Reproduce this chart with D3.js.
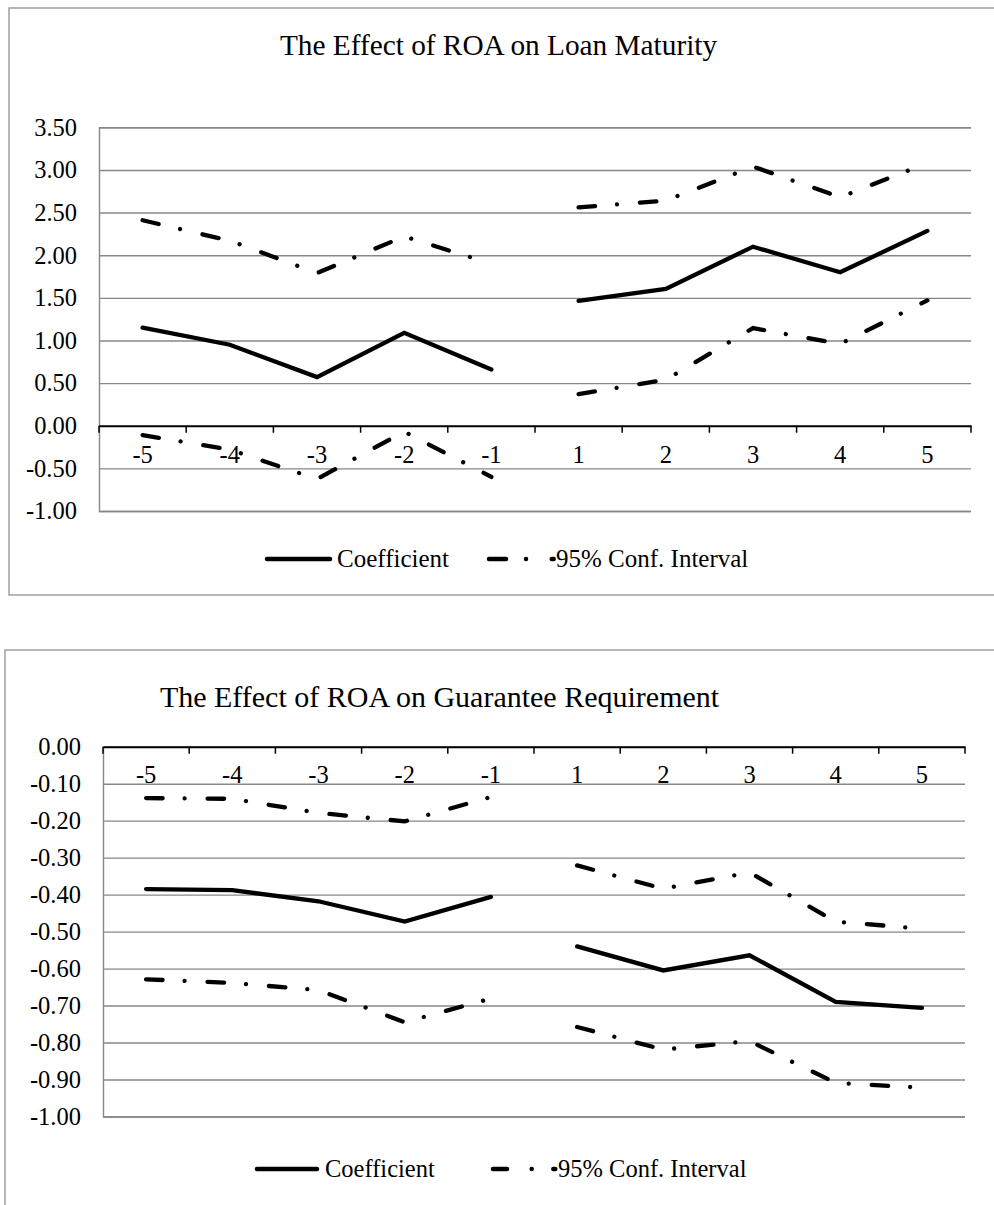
<!DOCTYPE html>
<html>
<head>
<meta charset="utf-8">
<script src="https://cdn.jsdelivr.net/npm/d3@7"></script>
<style>
  html, body { margin: 0; padding: 0; background: #fff; }
  svg { display: block; }
  text { font-family: "Liberation Serif", "Times New Roman", serif; fill: #000; }
</style>
</head>
<body>
<svg id="chart" width="994" height="1205"></svg>
<script>
// ---------------- data ----------------
const categories = [-5, -4, -3, -2, -1, 1, 2, 3, 4, 5];

// Chart 1: The Effect of ROA on Loan Maturity
const maturityCoef  = [1.15, 0.95, 0.57, 1.09, 0.66, 1.465, 1.605, 2.10, 1.80, 2.285];
const maturityUpper = [2.41, 2.17, 1.79, 2.22, 1.90, 2.56, 2.64, 3.04, 2.68, 3.08];
const maturityLower = [-0.11, -0.28, -0.625, -0.07, -0.60, 0.37, 0.54, 1.145, 0.96, 1.47];
const maturityTicks = [3.5, 3.0, 2.5, 2.0, 1.5, 1.0, 0.5, 0.0, -0.5, -1.0];

// Chart 2: The Effect of ROA on Guarantee Requirement
const guaranteeCoef  = [-0.385, -0.388, -0.418, -0.473, -0.406, -0.540, -0.605, -0.564, -0.690, -0.706];
const guaranteeUpper = [-0.139, -0.141, -0.179, -0.202, -0.136, -0.321, -0.384, -0.340, -0.473, -0.492];
const guaranteeLower = [-0.629, -0.639, -0.658, -0.745, -0.681, -0.758, -0.819, -0.796, -0.909, -0.922];
const guaranteeTicks = [0.0, -0.1, -0.2, -0.3, -0.4, -0.5, -0.6, -0.7, -0.8, -0.9, -1.0];

const seriesNames = ["Coefficient", "95% Conf. Interval"];
const titles = ["The Effect of ROA on Loan Maturity", "The Effect of ROA on Guarantee Requirement"];

// ---------------- drawing ----------------
const svg = d3.select("#chart");
const GRID = "#878787";
const DASH = "16.5,22,0.01,23";
const FONT = '"Liberation Serif", "Times New Roman", serif';
const locale = d3.formatLocale({ decimal: ".", thousands: ",", grouping: [3], currency: ["$", ""], minus: "-" });
const fmt2 = locale.format(".2f");
const fmtCat = d => String(d);

function drawChart(cfg) {
  const g = svg.append("g");
  // frame
  g.append("rect")
    .attr("x", cfg.frame[0]).attr("y", cfg.frame[1])
    .attr("width", cfg.frame[2]).attr("height", cfg.frame[3])
    .attr("fill", "none").attr("stroke", "#9a9a9a").attr("stroke-width", 1.4);

  // title
  g.append("text")
    .attr("x", cfg.titleX).attr("y", cfg.titleY)
    .attr("text-anchor", "middle")
    .style("font-family", FONT)
    .style("font-size", cfg.titleSize + "px")
    .text(cfg.title);

  const x = d3.scaleBand().domain(categories).range([cfg.left, cfg.right]).padding(0);
  const y = d3.scaleLinear().domain([cfg.ticks[cfg.ticks.length - 1], cfg.ticks[0]])
              .range([cfg.bottom, cfg.top]);
  const w = cfg.right - cfg.left;

  // y axis with gridlines
  const yAxis = g.append("g")
    .attr("transform", `translate(${cfg.left},0)`)
    .call(d3.axisLeft(y).tickValues(cfg.ticks).tickSize(-w).tickPadding(22)
          .tickFormat(fmt2));
  yAxis.attr("font-family", null);
  yAxis.select(".domain").attr("stroke", GRID).attr("stroke-width", 1.4);
  yAxis.selectAll(".tick line").attr("stroke", d => d === 0 ? "none" : GRID).attr("stroke-width", 1.4);
  yAxis.selectAll(".tick text")
    .style("font-size", cfg.fontSize + "px")
    .style("font-family", FONT)
    .attr("fill", "#000");

  // x axis along zero line (labels via d3 axis)
  const xAxis = g.append("g")
    .attr("transform", `translate(0,${y(0)})`)
    .call(d3.axisBottom(x).tickSize(0).tickPadding(cfg.xPad).tickFormat(fmtCat));
  xAxis.attr("font-family", null);
  xAxis.select(".domain").attr("stroke", "#000").attr("stroke-width", 2);
  xAxis.selectAll(".tick text")
    .style("font-size", cfg.fontSize + "px")
    .style("font-family", FONT)
    .attr("fill", "#000");
  // tick marks at category boundaries
  const bounds = categories.map(c => x(c)).concat([cfg.right]);
  g.append("g").selectAll("line").data(bounds).join("line")
    .attr("x1", d => d).attr("x2", d => d)
    .attr("y1", y(0)).attr("y2", y(0) + 7)
    .attr("stroke", "#000").attr("stroke-width", 1.5);

  const cx = c => x(c) + x.bandwidth() / 2;
  const line = d3.line()
    .defined(d => d.v !== null)
    .x(d => cx(d.c)).y(d => y(d.v));

  function segments(vals) {
    const left = categories.map((c, i) => ({ c, v: vals[i] })).filter(d => d.c < 0);
    const right = categories.map((c, i) => ({ c, v: vals[i] })).filter(d => d.c > 0);
    return [left, right];
  }

  [cfg.upper, cfg.lower].forEach(vals => {
    segments(vals).forEach(seg => {
      g.append("path").attr("d", line(seg))
        .attr("fill", "none").attr("stroke", "#000").attr("stroke-width", 4.3)
        .attr("stroke-linecap", "round").attr("stroke-dasharray", DASH);
    });
  });
  segments(cfg.coef).forEach(seg => {
    g.append("path").attr("d", line(seg))
      .attr("fill", "none").attr("stroke", "#000").attr("stroke-width", 4.3)
      .attr("stroke-linecap", "round").attr("stroke-linejoin", "miter");
  });

  // legend
  const L = cfg.legend;
  const lg = g.append("g");
  lg.append("line").attr("x1", L.solid[0]).attr("x2", L.solid[1])
    .attr("y1", L.y).attr("y2", L.y)
    .attr("stroke", "#000").attr("stroke-width", 4.5).attr("stroke-linecap", "round");
  lg.append("text").attr("x", L.text1).attr("y", L.y + 8)
    .style("font-family", FONT)
    .style("font-size", L.size + "px").text(seriesNames[0]);
  lg.append("line").attr("x1", L.dash[0]).attr("x2", L.dash[1])
    .attr("y1", L.y).attr("y2", L.y)
    .attr("stroke", "#000").attr("stroke-width", 4.5).attr("stroke-linecap", "round")
    .attr("stroke-dasharray", L.dashArray);
  lg.append("text").attr("x", L.text2).attr("y", L.y + 8)
    .style("font-family", FONT)
    .style("font-size", L.size + "px").text(seriesNames[1]);
}

drawChart({
  frame: [9, 8, 1000, 587],
  title: titles[0], titleX: 498.5, titleY: 55, titleSize: 29.3,
  left: 99, right: 971, top: 127.3, bottom: 511,
  ticks: maturityTicks, fontSize: 24.5, xPad: 20,
  coef: maturityCoef, upper: maturityUpper, lower: maturityLower,
  legend: { y: 559, solid: [267, 330], text1: 337, dash: [489, 553.7], text2: 556,
            dashArray: "17,20,0.01,25.7", size: 25 }
});

drawChart({
  frame: [5, 650, 1000, 600],
  title: titles[1], titleX: 439.5, titleY: 707, titleSize: 30,
  left: 103, right: 965, top: 746.7, bottom: 1116.5,
  ticks: guaranteeTicks, fontSize: 24.5, xPad: 19,
  coef: guaranteeCoef, upper: guaranteeUpper, lower: guaranteeLower,
  legend: { y: 1169, solid: [257, 317], text1: 325, dash: [493, 555.3], text2: 558,
            dashArray: "14,24.7,0.01,21.6", size: 24.5 }
});
</script>
</body>
</html>
